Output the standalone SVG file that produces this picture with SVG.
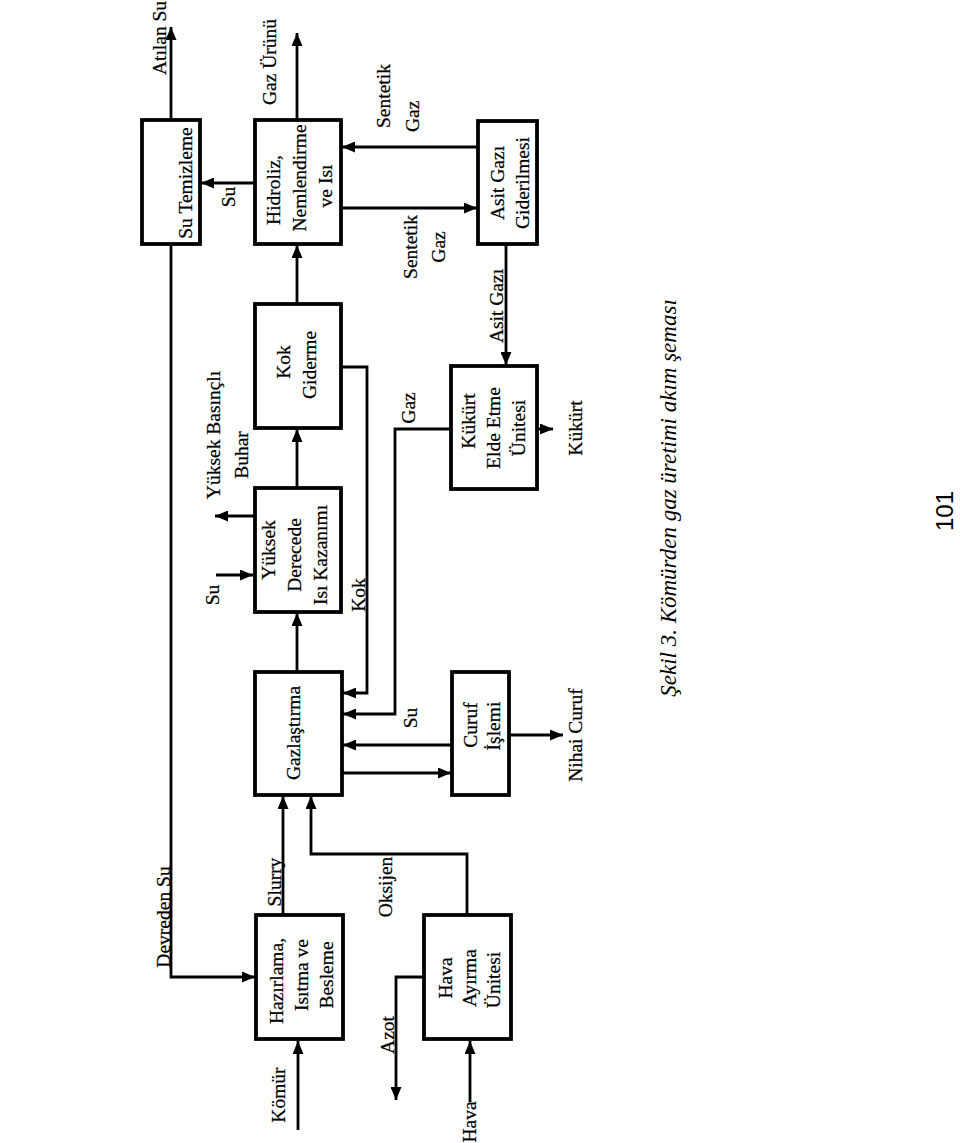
<svg xmlns="http://www.w3.org/2000/svg" width="960" height="1143" viewBox="0 0 960 1143">
<style>
.box{fill:#fff;stroke:#000;stroke-width:3.8}
.ln{fill:none;stroke:#000;stroke-width:2.8}
.t{font-family:"Liberation Serif","Times New Roman",serif;font-size:19.5px;text-anchor:middle;dominant-baseline:central;fill:#000;stroke:#000;stroke-width:0.25}
.s{text-anchor:start}
.cap{font-family:"Liberation Serif","Times New Roman",serif;font-size:23px;font-style:italic;text-anchor:middle;dominant-baseline:central;fill:#000}
.pg{font-family:"Liberation Sans",Arial,sans-serif;font-size:24px;text-anchor:middle;dominant-baseline:central;fill:#000}
</style>
<defs>
<marker id="ah" viewBox="0 0 13 11" refX="13" refY="5.5" markerWidth="13" markerHeight="11" orient="auto" markerUnits="userSpaceOnUse">
<path d="M0,0 L13,5.5 L0,11 z" fill="#000"/>
</marker>
</defs>
<rect width="960" height="1143" fill="#fff"/>

<g id="connectors">
<path class="ln" d="M171,120 V27" marker-end="url(#ah)"/>
<path class="ln" d="M297,120 V33" marker-end="url(#ah)"/>
<path class="ln" d="M254,183 H201" marker-end="url(#ah)"/>
<path class="ln" d="M478,147 H342" marker-end="url(#ah)"/>
<path class="ln" d="M341,208 H477" marker-end="url(#ah)"/>
<path class="ln" d="M506,244 V365" marker-end="url(#ah)"/>
<path class="ln" d="M537,429 H553" marker-end="url(#ah)"/>
<path class="ln" d="M451,429 H395 V714 H343" marker-end="url(#ah)"/>
<path class="ln" d="M341,367 H367 V693 H343" marker-end="url(#ah)"/>
<path class="ln" d="M452,745 H343" marker-end="url(#ah)"/>
<path class="ln" d="M342,773 H451" marker-end="url(#ah)"/>
<path class="ln" d="M509,735 H563" marker-end="url(#ah)"/>
<path class="ln" d="M297,672 V613" marker-end="url(#ah)"/>
<path class="ln" d="M297,488 V429" marker-end="url(#ah)"/>
<path class="ln" d="M297,303 V245" marker-end="url(#ah)"/>
<path class="ln" d="M216,575 H253" marker-end="url(#ah)"/>
<path class="ln" d="M254,516 H215" marker-end="url(#ah)"/>
<path class="ln" d="M171,244 V977 H255" marker-end="url(#ah)"/>
<path class="ln" d="M283,915 V796" marker-end="url(#ah)"/>
<path class="ln" d="M467,915 V854 H311 V796" marker-end="url(#ah)"/>
<path class="ln" d="M298,1130 V1041" marker-end="url(#ah)"/>
<path class="ln" d="M424,977 H396 V1100" marker-end="url(#ah)"/>
<path class="ln" d="M470,1102 V1041" marker-end="url(#ah)"/>
</g>

<g id="labels">
<text class="t" transform="translate(159,38) rotate(-90)">Atılan Su</text>
<text class="t" transform="translate(269,62) rotate(-90)">Gaz Ürünü</text>
<text class="t s" transform="translate(383,128) rotate(-90)">Sentetik</text>
<text class="t s" transform="translate(412,132) rotate(-90)">Gaz</text>
<text class="t" transform="translate(410,247) rotate(-90)">Sentetik</text>
<text class="t" transform="translate(438,247) rotate(-90)">Gaz</text>
<text class="t" transform="translate(228,197) rotate(-90)">Su</text>
<text class="t" transform="translate(496,306) rotate(-90)">Asit Gazı</text>
<text class="t" transform="translate(213,435) rotate(-90)">Yüksek Basınçlı</text>
<text class="t" transform="translate(241,455) rotate(-90)">Buhar</text>
<text class="t" transform="translate(212,595) rotate(-90)">Su</text>
<text class="t" transform="translate(358,595) rotate(-90)">Kok</text>
<text class="t" transform="translate(408,408) rotate(-90)">Gaz</text>
<text class="t" transform="translate(575,428) rotate(-90)">Kükürt</text>
<text class="t" transform="translate(410,718) rotate(-90)">Su</text>
<text class="t" transform="translate(575,735) rotate(-90)">Nihai Curuf</text>
<text class="t" transform="translate(163,917) rotate(-90)">Devreden Su</text>
<text class="t" transform="translate(274,882) rotate(-90)">Slurry</text>
<text class="t" transform="translate(385,887) rotate(-90)">Oksijen</text>
<text class="t" transform="translate(278,1095) rotate(-90)">Kömür</text>
<text class="t" transform="translate(387,1035) rotate(-90)">Azot</text>
<text class="t" transform="translate(469,1122) rotate(-90)">Hava</text>
</g>

<g id="n-su-temizleme">
<rect class="box" x="142" y="120" width="58" height="124"/>
<text class="t" transform="translate(185,183) rotate(-90)">Su Temizleme</text>
</g>
<g id="n-hidroliz">
<rect class="box" x="255" y="120" width="86" height="124"/>
<text class="t" transform="translate(273,190) rotate(-90)">Hidroliz,</text>
<text class="t" transform="translate(299,178) rotate(-90)">Nemlendirme</text>
<text class="t" transform="translate(325,186) rotate(-90)">ve Isı</text>
</g>
<g id="n-asit-gazi">
<rect class="box" x="478" y="121" width="59" height="123"/>
<text class="t" transform="translate(497,183) rotate(-90)">Asit Gazı</text>
<text class="t" transform="translate(522,183) rotate(-90)">Giderilmesi</text>
</g>
<g id="n-kok-giderme">
<rect class="box" x="255" y="304" width="86" height="124"/>
<text class="t" transform="translate(283,362) rotate(-90)">Kok</text>
<text class="t" transform="translate(309,365) rotate(-90)">Giderme</text>
</g>
<g id="n-yuksek">
<rect class="box" x="255" y="488" width="86" height="124"/>
<text class="t" transform="translate(268,550) rotate(-90)">Yüksek</text>
<text class="t" transform="translate(294,555) rotate(-90)">Derecede</text>
<text class="t" transform="translate(320,555) rotate(-90)">Isı Kazanımı</text>
</g>
<g id="n-kukurt">
<rect class="box" x="451" y="366" width="86" height="123"/>
<text class="t" transform="translate(468,421) rotate(-90)">Kükürt</text>
<text class="t" transform="translate(493,428) rotate(-90)">Elde Etme</text>
<text class="t" transform="translate(518,428) rotate(-90)">Ünitesi</text>
</g>
<g id="n-gazlastirma">
<rect class="box" x="255" y="672" width="87" height="123"/>
<text class="t" transform="translate(293,733) rotate(-90)">Gazlaştırma</text>
</g>
<g id="n-curuf">
<rect class="box" x="452" y="672" width="57" height="123"/>
<text class="t" transform="translate(470,725) rotate(-90)">Curuf</text>
<text class="t" transform="translate(493,726) rotate(-90)">İşlemi</text>
</g>
<g id="n-hazirlama">
<rect class="box" x="256" y="915" width="87" height="124"/>
<text class="t" transform="translate(276,981) rotate(-90)">Hazırlama,</text>
<text class="t" transform="translate(301,975) rotate(-90)">Isıtma ve</text>
<text class="t" transform="translate(326,975) rotate(-90)">Besleme</text>
</g>
<g id="n-hava">
<rect class="box" x="424" y="915" width="87" height="124"/>
<text class="t" transform="translate(445,978) rotate(-90)">Hava</text>
<text class="t" transform="translate(469,978) rotate(-90)">Ayırma</text>
<text class="t" transform="translate(493,980) rotate(-90)">Ünitesi</text>
</g>

<g id="caption">
<text class="cap" transform="translate(668,498) rotate(-90)">Şekil 3. Kömürden gaz üretimi akım şeması</text>
<text class="pg" transform="translate(944,511) rotate(-90)">101</text>
</g>
</svg>
